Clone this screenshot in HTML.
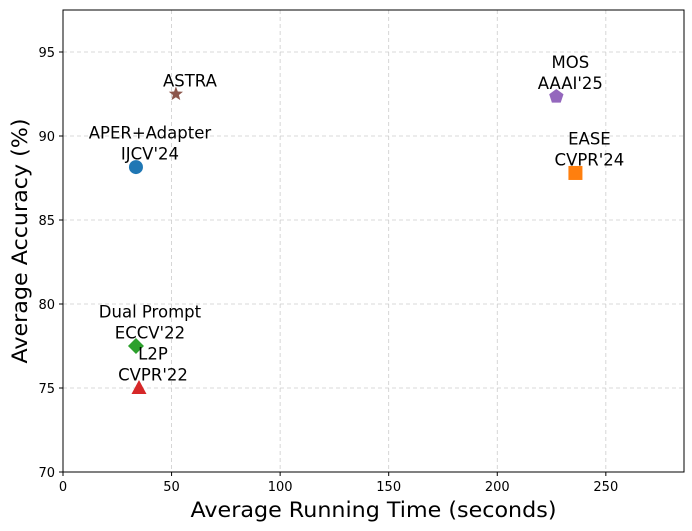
<!DOCTYPE html>
<html><head><meta charset="utf-8"><style>
body{margin:0;background:#fff;}
svg{display:block;font-family:"DejaVu Sans","Liberation Sans",sans-serif;}
</style></head><body>
<svg id="chart" width="692" height="531"></svg>
<script>
const methods=["APER+Adapter\nIJCV'24","ASTRA","MOS\nAAAI'25","EASE\nCVPR'24","Dual Prompt\nECCV'22","L2P\nCVPR'22"];
const runTimes=[33.6,52,227.2,236,33.6,35];
const accuracies=[88.15,92.5,92.35,87.8,77.5,75.0];
const colors=["#1f77b4","#8c564b","#9467bd","#ff7f0e","#2ca02c","#d62728"];
const shapes=["circle","star","pentagon","square","diamond","triangle"];
const xTicks=[0,50,100,150,200,250];
const yTicks=[70,75,80,85,90,95];
const L=63,R=684,T=10,B=472,xMin=0,xMax=286,yMin=70,yMax=97.5;
const sx=v=>L+(v-xMin)/(xMax-xMin)*(R-L);
const sy=v=>B-(v-yMin)/(yMax-yMin)*(B-T);
const svg=document.getElementById('chart');
const NS="http://www.w3.org/2000/svg";
function mk(t,a,p){const e=document.createElementNS(NS,t);for(const k in a)e.setAttribute(k,a[k]);(p||svg).appendChild(e);return e;}
xTicks.forEach(v=>{
 const g=mk('line',{x1:sx(v),x2:sx(v),y1:T,y2:B,stroke:'#ccc','stroke-dasharray':'4,3','stroke-width':0.8});
 
 
 mk('line',{x1:sx(v),x2:sx(v),y1:B,y2:B+4,stroke:'#000'});
 const t=mk('text',{x:sx(v),y:B+19,'text-anchor':'middle','font-size':13});t.textContent=v;
 
 
});
yTicks.forEach(v=>{
 const g=mk('line',{x1:L,x2:R,y1:sy(v),y2:sy(v),stroke:'#ccc','stroke-dasharray':'4,3','stroke-width':0.8});
 
 
 mk('line',{x1:L-4,x2:L,y1:sy(v),y2:sy(v),stroke:'#000'});
 const t=mk('text',{x:L-8,y:sy(v)+5,'text-anchor':'end','font-size':13});t.textContent=v;
 
 
});
const fr=mk('rect',{x:L,y:T,width:R-L,height:B-T,fill:'none',stroke:'#000','stroke-width':1});


function poly(n,r,cx,cy,inner){let p=[];const m=inner?2*n:n;for(let i=0;i<m;i++){const a=-Math.PI/2+i*Math.PI*2/m;const rr=inner&&i%2?r*inner:r;p.push((cx+rr*Math.cos(a)).toFixed(1)+','+(cy+rr*Math.sin(a)).toFixed(1));}return p.join(' ');}
methods.forEach((m,i)=>{
 const cx=sx(runTimes[i]),cy=sy(accuracies[i]),c=colors[i];let e;
 switch(shapes[i]){
  case 'circle':e=mk('circle',{cx,cy,r:7,fill:c});break;
  case 'star':e=mk('polygon',{points:poly(5,7.5,cx,cy,0.42),fill:c});break;
  case 'pentagon':e=mk('polygon',{points:poly(5,7.5,cx,cy),fill:c});break;
  case 'square':e=mk('rect',{x:cx-7,y:cy-7,width:14,height:14,fill:c});break;
  case 'diamond':e=mk('polygon',{points:`${cx},${cy-8} ${cx+8},${cy} ${cx},${cy+8} ${cx-8},${cy}`,fill:c});break;
  case 'triangle':e=mk('polygon',{points:`${cx},${cy-8} ${cx+7.5},${cy+6} ${cx-7.5},${cy+6}`,fill:c});break;
 }
 
 
 const lines=m.split('\n');
 lines.forEach((ln,j)=>{
  const t=mk('text',{x:cx+14,y:cy-7.5-(lines.length-1-j)*21,'text-anchor':'middle','font-size':16.5});t.textContent=ln;
  
  
 });
});
const xt=mk('text',{x:(L+R)/2,y:517,'text-anchor':'middle','font-size':21,textLength:366,lengthAdjust:'spacingAndGlyphs'});xt.textContent='Average Running Time (seconds)';


const yt=mk('text',{x:0,y:0,'text-anchor':'middle','font-size':21,textLength:245,lengthAdjust:'spacingAndGlyphs',transform:`translate(27,241) rotate(-90)`});yt.textContent='Average Accuracy (%)';


</script>
</body></html>
